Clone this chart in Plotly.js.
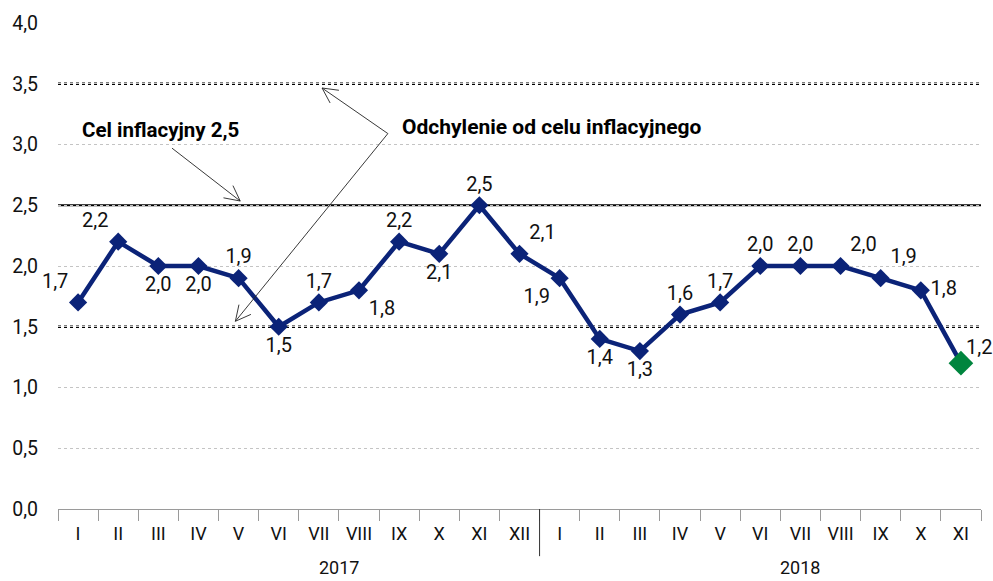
<!DOCTYPE html>
<html>
<head>
<meta charset="utf-8">
<script src="https://cdn.plot.ly/plotly-3.0.1.min.js"></script>
<style>html,body{margin:0;padding:0;background:#fff;}#chart{width:993px;height:581px;}</style>
</head>
<body>
<div id="chart"></div>
<script>
// ---- data ----
var years = ['2017', '2018'];
var months2017 = ['I','II','III','IV','V','VI','VII','VIII','IX','X','XI','XII'];
var months2018 = ['I','II','III','IV','V','VI','VII','VIII','IX','X','XI'];
var cpi2017 = [1.7, 2.2, 2.0, 2.0, 1.9, 1.5, 1.7, 1.8, 2.2, 2.1, 2.5, 2.1];
var cpi2018 = [1.9, 1.4, 1.3, 1.6, 1.7, 2.0, 2.0, 2.0, 1.9, 1.8, 1.2];
var targetLevel = [2.5];
var bandLevels = [1.5, 3.5];
var targetLabel = 'Cel inflacyjny 2,5';
var bandLabel = 'Odchylenie od celu inflacyjnego';
var labelPos2017 = ['top left','top left','bottom center','bottom center','top center','bottom center','top center','bottom right','top center','bottom center','top center','top right'];
var labelPos2018 = ['bottom left','bottom center','bottom center','top center','top center','top center','top center','top right','top right','middle right','top right'];

// ---- build ----
var months = months2017.concat(months2018);
var keys = months2017.map(function(m){return m+' '+years[0];}).concat(months2018.map(function(m){return m+' '+years[1];}));
var values = cpi2017.concat(cpi2018);
var labels = values.map(function(v){return v.toFixed(1).replace('.', ',');});
var positions = labelPos2017.concat(labelPos2018);
var n = keys.length;
var navy = '#0b2378', green = '#00853e';
var markerColors = values.map(function(v,i){return i === n-1 ? green : navy;});
var markerSizes = values.map(function(v,i){return i === n-1 ? 19 : 14;});
// last label drawn as annotation (to keep it inside the picture)
var traceText = labels.map(function(t,i){return i === n-1 ? '' : t;});

var FONT = 'Roboto, "Noto Sans", sans-serif';

var trace = {
  type: 'scatter', mode: 'lines+markers+text',
  x: keys, y: values, text: traceText, textposition: positions,
  textfont: {family: FONT, size: 20, color: '#111'},
  line: {color: navy, width: 4.5},
  marker: {symbol: 'diamond', size: markerSizes, color: markerColors, opacity: 1, line: {width: 0}},
  opacity: 1,
  cliponaxis: false, hoverinfo: 'skip', showlegend: false
};

// plot geometry (for arrowheads)
var ML = 58, MR = 12, MT = 23, MB = 72, W = 993, H = 581;
var pxX = (W - ML - MR) / n, pxY = (H - MT - MB) / 4;

var shapes = [];
bandLevels.forEach(function(v){
  shapes.push({type:'line', xref:'paper', x0:0, x1:1, yref:'y', y0:v, y1:v, layer:'below',
    line:{color:'#000', width:2.5, dash:'dot'}});
});
targetLevel.forEach(function(v){
  shapes.push({type:'line', xref:'paper', x0:0, x1:1, yref:'y', y0:v, y1:v, layer:'below',
    line:{color:'#000', width:2.2}});
});
// year separator
shapes.push({type:'line', xref:'x', x0:months2017.length-0.5, x1:months2017.length-0.5,
  yref:'paper', y0:0, y1:-0.097, line:{color:'#333', width:1}});

function arrow(t, h){
  shapes.push({type:'line', xref:'x', yref:'y', x0:t[0], y0:t[1], x1:h[0], y1:h[1], line:{color:'#222', width:0.9}});
  var dx = (t[0]-h[0])*pxX, dy = (t[1]-h[1])*pxY;
  var L = Math.sqrt(dx*dx+dy*dy), ux = dx/L, uy = dy/L;
  var len = 17, ang = 27*Math.PI/180;
  [ang, -ang].forEach(function(a){
    var wx = ux*Math.cos(a) - uy*Math.sin(a), wy = ux*Math.sin(a) + uy*Math.cos(a);
    shapes.push({type:'line', xref:'x', yref:'y', x0:h[0], y0:h[1],
      x1:h[0]+wx*len/pxX, y1:h[1]+wy*len/pxY, line:{color:'#222', width:0.9}});
  });
}
arrow([2.34, 2.97], [4.04, 2.535]);
arrow([7.72, 3.09], [6.08, 3.465]);
arrow([7.72, 3.09], [3.92, 1.545]);

var annotations = [
  {xref:'x', yref:'y', x:0.05, y:3.12, xanchor:'left', yanchor:'middle', showarrow:false,
   text:'<b>'+targetLabel+'</b>', font:{family:FONT, size:20.5, color:'#000'}},
  {xref:'x', yref:'y', x:8.02, y:3.14, xanchor:'left', yanchor:'middle', showarrow:false,
   text:'<b>'+bandLabel+'</b>', font:{family:FONT, size:21, color:'#000'}},
  {xref:'x', yref:'paper', x:months2017.length/2 + 0.5, y:-0.12, xanchor:'center', yanchor:'middle', showarrow:false,
   text:years[0], font:{family:FONT, size:18, color:'#111'}},
  {xref:'x', yref:'paper', x:months2017.length + months2018.length/2 + 0.5, y:-0.12, xanchor:'center', yanchor:'middle', showarrow:false,
   text:years[1], font:{family:FONT, size:18, color:'#111'}},
  {xref:'x', yref:'y', x:n-1, y:values[n-1], xanchor:'center', yanchor:'middle', showarrow:false,
   xshift:18, yshift:16, text:labels[n-1], font:{family:FONT, size:20, color:'#111'}}
];

var layout = {
  width: W, height: H,
  margin: {l: ML, r: MR, t: MT, b: MB, pad: 0},
  paper_bgcolor: '#fff', plot_bgcolor: '#fff',
  separators: ',.',
  showlegend: false,
  font: {family: FONT, size: 18, color: '#111'},
  xaxis: {
    type: 'category', range: [-0.5, n-0.5],
    tickmode: 'array', tickvals: keys, ticktext: months,
    tickson: 'boundaries', ticks: 'outside', ticklen: 11, tickcolor: '#9a9a9a', tickwidth: 1,
    showgrid: false, zeroline: false,
    showline: true, linecolor: '#9a9a9a', linewidth: 1.2,
    tickfont: {family: FONT, size: 18, color: '#111'},
    ticklabelstandoff: 8, fixedrange: true
  },
  yaxis: {
    range: [0, 4], tick0: 0, dtick: 0.5, tickformat: '.1f',
    showgrid: true, gridcolor: '#c4c4c4', gridwidth: 1, griddash: 'dot',
    zeroline: false, showline: false, ticks: '',
    tickfont: {family: FONT, size: 19.5, color: '#111'},
    ticklabelstandoff: 19, fixedrange: true
  },
  shapes: shapes,
  annotations: annotations
};

Plotly.newPlot('chart', [trace], layout, {displayModeBar: false, staticPlot: true});
</script>
</body>
</html>
